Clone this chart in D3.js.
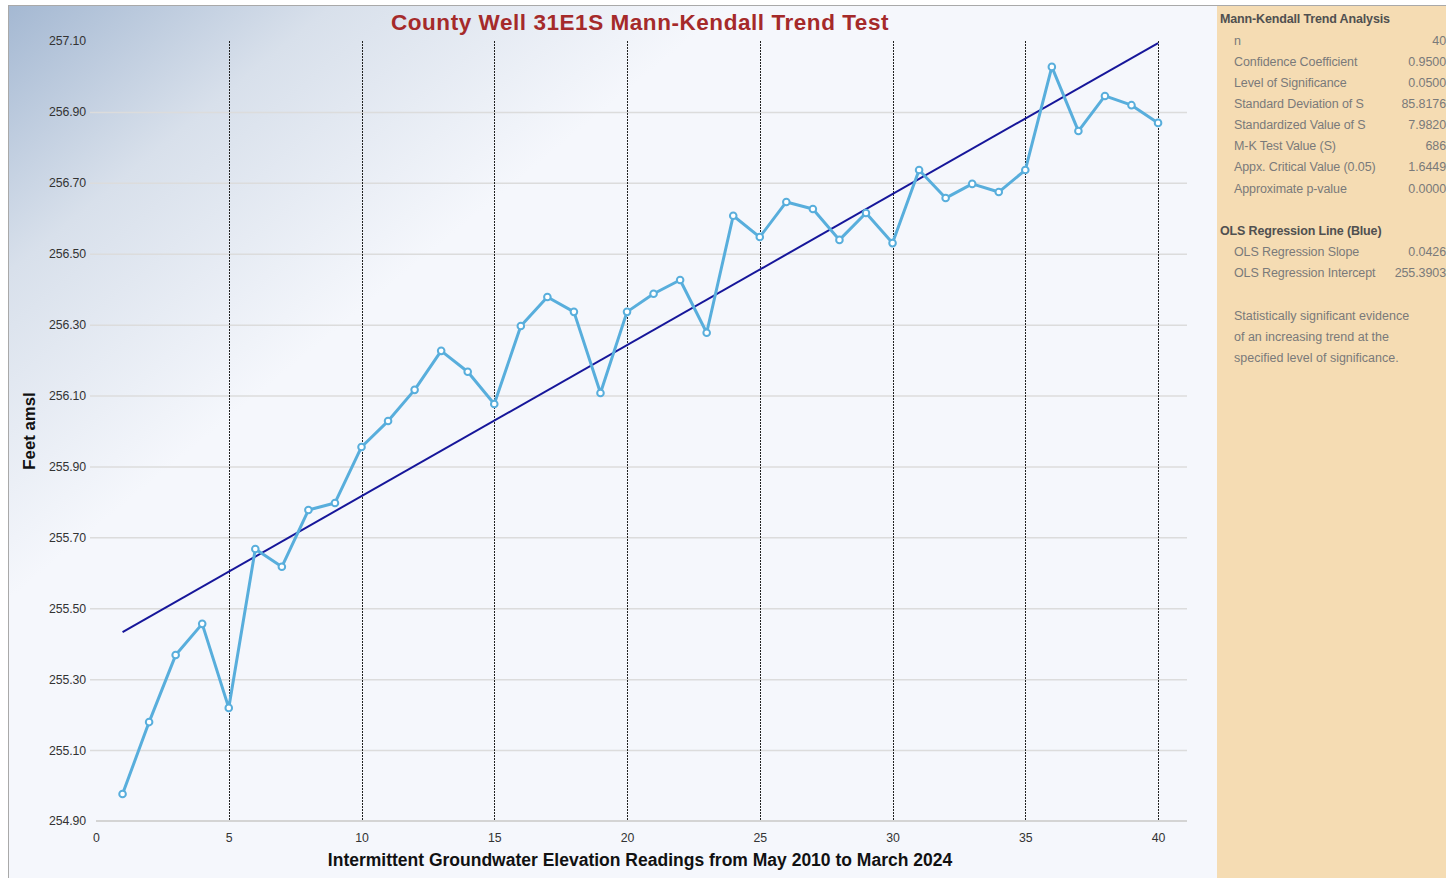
<!DOCTYPE html>
<html>
<head>
<meta charset="utf-8">
<script src="https://cdn.jsdelivr.net/npm/d3@7"></script>
<style>
  html, body { margin: 0; padding: 0; background: #ffffff; }
  svg { display: block; }
</style>
</head>
<body>
<svg id="chart" width="1446" height="878"></svg>
<script>
// Reading number (1..40) and groundwater elevation (feet amsl)
const readings = d3.range(1, 41);
const elevations = [
  254.976, 255.179, 255.368, 255.456, 255.219, 255.667, 255.617, 255.777, 255.797, 255.955,
  256.028, 256.116, 256.226, 256.167, 256.076, 256.296, 256.378, 256.336, 256.107, 256.336,
  256.387, 256.426, 256.277, 256.607, 256.547, 256.646, 256.626, 256.539, 256.615, 256.530,
  256.736, 256.657, 256.697, 256.674, 256.736, 257.027, 256.846, 256.945, 256.919, 256.869
];

const yTicks = [254.9, 255.1, 255.3, 255.5, 255.7, 255.9, 256.1, 256.3, 256.5, 256.7, 256.9, 257.1];
const yGridTicks = [255.1, 255.3, 255.5, 255.7, 255.9, 256.1, 256.3, 256.5, 256.7, 256.9];
const xTicks = [0, 5, 10, 15, 20, 25, 30, 35, 40];
const xDashed = [5, 10, 15, 20, 25, 30, 35, 40];

// OLS regression parameters
const olsSlope = 0.0426;
const olsIntercept = 255.3903;

// Side panel contents
const mkLabels = ["n", "Confidence Coefficient", "Level of Significance", "Standard Deviation of S",
  "Standardized Value of S", "M-K Test Value (S)", "Appx. Critical Value (0.05)", "Approximate p-value"];
const mkValues = ["40", "0.9500", "0.0500", "85.8176", "7.9820", "686", "1.6449", "0.0000"];
const olsLabels = ["OLS Regression Slope", "OLS Regression Intercept"];
const olsValues = ["0.0426", "255.3903"];
const noteLines = ["Statistically significant evidence", "of an increasing trend at the",
  "specified level of significance."];

const svg = d3.select("#chart");
const W = 1446, H = 878;

const x = d3.scaleLinear().domain([0, 41]).range([96, 1184.6]);
const y = d3.scaleLinear().domain([254.9, 257.1]).range([821, 41]);

// Background
const defs = svg.append("defs");
const grad = defs.append("linearGradient")
  .attr("id", "bgGrad")
  .attr("gradientUnits", "userSpaceOnUse")
  .attr("x1", 8).attr("y1", 5).attr("x2", 300).attr("y2", 360);
grad.append("stop").attr("offset", "0%").attr("stop-color", "#a4b8d2");
grad.append("stop").attr("offset", "45%").attr("stop-color", "#d8e0eb");
grad.append("stop").attr("offset", "100%").attr("stop-color", "#f5f7fc");

svg.append("rect").attr("x", 0).attr("y", 0).attr("width", W).attr("height", H).attr("fill", "#ffffff");
svg.append("rect").attr("x", 8).attr("y", 5).attr("width", 1209).attr("height", H - 5).attr("fill", "url(#bgGrad)");
svg.append("rect").attr("x", 1217).attr("y", 5).attr("width", W - 1217).attr("height", H - 5).attr("fill", "#f5dcb3");

// Frame lines
svg.append("line").attr("x1", 8).attr("x2", W).attr("y1", 5.5).attr("y2", 5.5).attr("stroke", "#a9a9a9");
svg.append("line").attr("x1", 8.5).attr("x2", 8.5).attr("y1", 5).attr("y2", H).attr("stroke", "#a9a9a9");

const tickFont = "'Liberation Sans', Arial, sans-serif";

// Horizontal gridlines via the y axis
const yGrid = svg.append("g")
  .attr("transform", `translate(${x(0)},0)`)
  .call(d3.axisLeft(y).tickValues(yGridTicks).tickSize(-(1187 - 90)).tickFormat(""));
yGrid.select(".domain").remove();
yGrid.selectAll(".tick line").attr("stroke", "#dcdcdc").attr("stroke-width", 1.5).attr("transform", "translate(-6,0)");

// Baseline at the bottom of the plot
svg.append("line")
  .attr("x1", x(0)).attr("x2", 1187)
  .attr("y1", y(254.9)).attr("y2", y(254.9))
  .attr("stroke", "#d4d4d4").attr("stroke-width", 2);

// Y tick labels
const yAxis = svg.append("g")
  .attr("transform", `translate(${x(0)},0)`)
  .call(d3.axisLeft(y).tickValues(yTicks).tickSize(0).tickPadding(10).tickFormat(d3.format(".2f")));
yAxis.select(".domain").remove();
yAxis.selectAll("text").attr("font-family", tickFont).attr("font-size", 12.3).attr("fill", "#333")
  .attr("letter-spacing", "-0.1");

// X tick labels
const xAxis = svg.append("g")
  .attr("transform", `translate(0,${y(254.9)})`)
  .call(d3.axisBottom(x).tickValues(xTicks).tickSize(0).tickPadding(12).tickFormat(d3.format("d")));
xAxis.select(".domain").remove();
xAxis.selectAll("text").attr("font-family", tickFont).attr("font-size", 12.3).attr("fill", "#333");

// Dashed vertical markers every 5 readings
svg.append("g").selectAll("line").data(xDashed).join("line")
  .attr("x1", d => Math.round(x(d)) + 0.5).attr("x2", d => Math.round(x(d)) + 0.5)
  .attr("y1", y(257.1)).attr("y2", y(254.9))
  .attr("stroke", "#222").attr("stroke-width", 1)
  .attr("stroke-dasharray", "2,1");

// Regression line
const regX = [readings[0], readings[readings.length - 1]];
svg.append("line")
  .attr("x1", x(regX[0])).attr("y1", y(olsIntercept + olsSlope * regX[0]))
  .attr("x2", x(regX[1])).attr("y2", y(olsIntercept + olsSlope * regX[1]))
  .attr("stroke", "#16169a").attr("stroke-width", 2);

// Elevation series
const series = readings.map((r, i) => ({ r, v: elevations[i] }));
const lineGen = d3.line().x(d => x(d.r)).y(d => y(d.v));
svg.append("path")
  .datum(series)
  .attr("d", lineGen)
  .attr("fill", "none")
  .attr("stroke", "#58aedc")
  .attr("stroke-width", 3)
  .attr("stroke-linejoin", "round");

svg.append("g").selectAll("circle").data(series).join("circle")
  .attr("cx", d => x(d.r)).attr("cy", d => y(d.v))
  .attr("r", 3.3)
  .attr("fill", "#ffffff")
  .attr("stroke", "#58aedc")
  .attr("stroke-width", 2);

// Titles
const titleFont = "'Liberation Sans', Arial, sans-serif";
svg.append("text")
  .attr("x", 640).attr("y", 30)
  .attr("text-anchor", "middle")
  .attr("font-family", titleFont).attr("font-weight", "bold").attr("font-size", 22.5)
  .attr("letter-spacing", "0.55")
  .attr("fill", "#a52a2a")
  .text("County Well 31E1S Mann-Kendall Trend Test");

svg.append("text")
  .attr("x", 640).attr("y", 866)
  .attr("text-anchor", "middle")
  .attr("font-family", titleFont).attr("font-weight", "bold").attr("font-size", 17.5)
  .attr("fill", "#111")
  .text("Intermittent Groundwater Elevation Readings from May 2010 to March 2024");

svg.append("text")
  .attr("transform", "translate(35,431) rotate(-90)")
  .attr("text-anchor", "middle")
  .attr("font-family", titleFont).attr("font-weight", "bold").attr("font-size", 16.8)
  .attr("fill", "#111")
  .text("Feet amsl");

// Side panel
const panelFont = "'Liberation Sans', Arial, sans-serif";
const panel = svg.append("g").attr("font-family", panelFont);
const headerColor = "#505050", itemColor = "#7a7a7a";

function header(txt, yy) {
  panel.append("text").attr("x", 1220).attr("y", yy).attr("dy", "0.35em")
    .attr("font-size", 12.5).attr("font-weight", "bold").attr("fill", headerColor)
    .attr("letter-spacing", "-0.15").text(txt);
}
function rows(labels, values, y0) {
  labels.forEach((lab, i) => {
    const yy = y0 + i * 21.1;
    panel.append("text").attr("x", 1234).attr("y", yy).attr("dy", "0.35em")
      .attr("font-size", 12.5).attr("fill", itemColor).attr("letter-spacing", "-0.1").text(lab);
    panel.append("text").attr("x", 1446).attr("y", yy).attr("dy", "0.35em")
      .attr("text-anchor", "end")
      .attr("font-size", 12.5).attr("fill", itemColor).attr("letter-spacing", "-0.1").text(values[i]);
  });
}

header("Mann-Kendall Trend Analysis", 19);
rows(mkLabels, mkValues, 40.5);
header("OLS Regression Line (Blue)", 231);
rows(olsLabels, olsValues, 252);
noteLines.forEach((t, i) => {
  panel.append("text").attr("x", 1234).attr("y", 315.5 + i * 21.2).attr("dy", "0.35em")
    .attr("font-size", 12.5).attr("fill", itemColor).attr("letter-spacing", "0").text(t);
});
</script>
</body>
</html>
